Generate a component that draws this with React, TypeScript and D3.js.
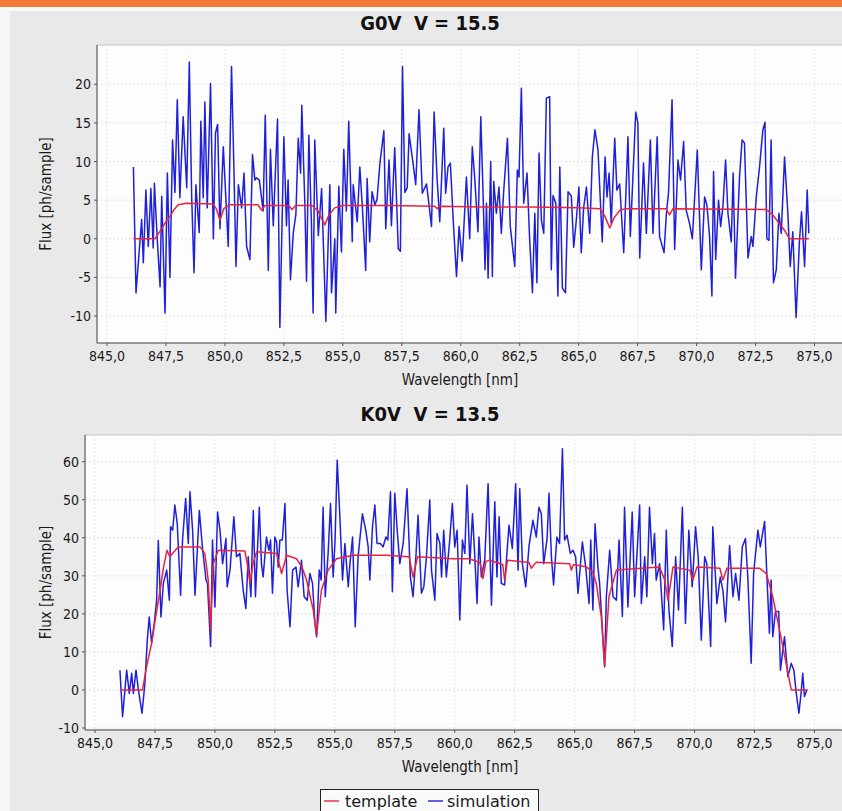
import React from 'react';
import * as d3 from 'd3';

// wavelength [nm], flux [ph/sample]
const sim1: [number, number][] = [
  [846.12, 9.3], [846.23, -7], [846.47, 2.5], [846.54, -3.1], [846.65, 6.3], [846.75, -1], [846.86, 6.5], [846.96, -1.2],
  [847.01, 7.2], [847.13, 0], [847.25, -6.2], [847.32, 5.5], [847.46, -9.6], [847.56, 8.5], [847.67, -5], [847.78, 12.8],
  [847.88, 6], [847.98, 18], [848.09, 5.3], [848.23, 15.8], [848.38, 6.6], [848.49, 22.9], [848.59, 5.5], [848.69, -4.4],
  [848.77, 7], [848.91, 0.8], [848.98, 15.2], [849.08, 5.3], [849.15, 17.7], [849.25, 4.0], [849.39, 20.1], [849.51, 0],
  [849.6, 13.7], [849.69, 14.8], [849.79, 1.3], [849.93, 11.9], [850.04, 5.3], [850.14, -1], [850.28, 22.3], [850.38, 9.3],
  [850.47, -3.6], [850.57, 7], [850.71, 4], [850.81, 8.5], [850.92, -1], [851.06, -2.7], [851.17, 10.9], [851.27, 7.6],
  [851.34, 7.9], [851.46, 7.6], [851.62, 3.6], [851.71, 16], [851.84, -4.1], [851.93, 11.6], [852.05, 1.7], [852.23, 15.5],
  [852.33, -11.5], [852.5, 13.2], [852.61, 1.7], [852.68, 7.6], [852.78, -5.3], [852.9, 0.8], [853.01, 3.2], [853.11, 13],
  [853.21, 8.5], [853.26, 17.3], [853.39, 4.5], [853.46, -5.5], [853.56, 13.4], [853.67, 1.7], [853.74, -9.6], [853.81, 12.8],
  [853.96, 0.4], [854.1, 6.5], [854.28, -10.7], [854.45, 7], [854.52, -7], [854.66, 0], [854.7, -9.6], [854.83, 6.8],
  [854.94, -1.7], [855.04, 11.6], [855.15, 3.6], [855.25, 15.2], [855.4, -0.4], [855.44, 7], [855.61, 2.2], [855.72, 9.3],
  [855.83, 4], [855.97, -4.1], [856.03, 7.8], [856.14, -0.4], [856.24, 6.1], [856.36, 4.4], [856.45, 5.1], [856.57, 9.7],
  [856.74, 14], [856.82, 1.3], [856.96, 10.2], [857.06, 1.7], [857.2, 11.8], [857.35, -1.3], [857.44, -1.6], [857.53, 22.3],
  [857.63, 6], [857.73, 6.6], [857.81, 13.6], [857.98, 9.7], [858.09, 7], [858.23, 16.7],
  [858.37, 5.9], [858.55, 7.1], [858.76, 1.6], [858.87, 16.4], [859.0, 7.6], [859.11, 2.2], [859.28, 14.3], [859.36, 5.9],
  [859.46, 9.3], [859.56, 9.8], [859.68, 2.4], [859.82, -4.9], [859.93, 1.6], [860.06, -2.9], [860.24, 8.0], [860.38, 0],
  [860.49, 11.9], [860.59, 8], [860.73, 0.9], [860.85, 15.8], [860.95, 5.4], [861.03, -4], [861.09, 4.6], [861.16, -5.1],
  [861.27, 10], [861.34, -4.9], [861.4, 7.4], [861.51, 3.3], [861.62, 6.7], [861.72, 0.7], [861.82, 6.1], [861.98, 13],
  [862.1, 1.6], [862.29, -3.6], [862.4, 8.9], [862.47, 8.0], [862.57, 19.5], [862.67, 4.6], [862.81, 8.5], [862.92, 0],
  [863.04, -7], [863.14, 3.3], [863.23, -5.7], [863.32, 11.1], [863.42, 2.4], [863.52, 0.7], [863.63, 18.2], [863.77, 18.4],
  [863.84, -4], [863.91, 5.6], [864.03, 4.6], [864.12, -7.4], [864.2, 9.3], [864.31, -6.4], [864.44, -7], [864.55, 6.1],
  [864.69, 5.5], [864.79, -1.1], [864.9, 2.4], [865.01, 6.7], [865.11, -1.8], [865.21, 4.0], [865.33, 6.7], [865.47, 0.7],
  [865.58, 10.6], [865.69, 14.1], [865.82, 11.5], [866.0, -0.4], [866.12, 10.6], [866.2, 5.4], [866.29, 8.5], [866.38, 2],
  [866.53, 13], [866.62, 6.3], [866.74, 7.1], [866.91, -1.8], [867.09, 13.2], [867.19, 0.3], [867.42, 16.4], [867.51, 15],
  [867.59, -2.5], [867.75, 9.8], [867.87, 0.7], [868.04, 12.8], [868.15, 0.7], [868.33, 13.2], [868.43, 0.3], [868.62, -1.8],
  [868.72, 3.3], [868.81, 5.9], [868.96, 18], [869.07, -1.4], [869.21, 10.2], [869.32, 7.6], [869.45, 12.6], [869.56, 3.7],
  [869.7, 2], [869.82, 0], [870.03, 11.5], [870.2, -4], [870.34, 5.4], [870.44, 4.3], [870.55, 0.3], [870.65, -7.4],
  [870.72, 8.7], [870.81, -2.7], [870.93, 5], [871.02, 1.6], [871.12, 4.3], [871.23, 10.2], [871.33, 3.3], [871.47, -0.4],
  [871.55, 8.5], [871.65, -5.1], [871.82, 8.0], [871.93, 12.8], [872.03, 12.4], [872.18, -2.5], [872.32, 0.3], [872.39, -1],
  [872.53, 5.4], [872.67, 9.3], [872.81, 14.1], [872.9, 15.1], [872.98, 0], [873.07, -0.2], [873.16, 12.8], [873.26, -5.7],
  [873.38, -4], [873.49, 3.3], [873.59, 0.7], [873.73, 10.6], [873.87, 3.3], [873.97, -3.6], [874.08, 0.9], [874.22, -10.2],
  [874.36, -0.4], [874.45, 3.5], [874.58, -3.6], [874.69, 6.3], [874.76, 0.7],
];

const tmpl1: [number, number][] = [
  [846.12, 0], [847.04, 0], [847.25, 1], [847.5, 2.2], [847.67, 2.9], [847.85, 3.8], [848.02, 4.4], [848.38, 4.6],
  [849.5, 4.5], [849.65, 3.8], [849.79, 2.4], [849.95, 3.9], [850.2, 4.4], [851.4, 4.4], [851.55, 3.7], [851.7, 4.3],
  [852.7, 4.3], [852.85, 3.8], [853.0, 4.3], [853.7, 4.3], [853.95, 3.6], [854.1, 2.6], [854.24, 1.8], [854.4, 3.0],
  [854.65, 4.0], [855.0, 4.3], [857.0, 4.3], [858.9, 4.2], [859.0, 3.9], [859.1, 4.2], [861.0, 4.1], [863.0, 4.1],
  [865.0, 4.0], [865.9, 3.9], [866.1, 3.0], [866.32, 1.4], [866.5, 2.7], [866.75, 3.7], [867.0, 3.9], [868.7, 3.9],
  [868.85, 3.1], [869.0, 3.9], [872.95, 3.8], [873.2, 3.2], [873.5, 2.0], [873.75, 1.0], [873.94, 0], [874.76, 0],
];

const sim2: [number, number][] = [
  [846.04, 5.2], [846.15, -7], [846.32, 5.2], [846.43, -0.9], [846.53, 4.4], [846.6, -0.9], [846.71, 5.2], [846.81, 0],
  [846.96, -6.1], [847.08, 1.7], [847.18, 13.1], [847.26, 19.2], [847.36, 12.3], [847.47, 17.5], [847.57, 23.6], [847.64, 39.3],
  [847.75, 19.2], [847.85, 28], [847.99, 31.5], [848.1, 23.6], [848.15, 42.9], [848.24, 42], [848.33, 48.6], [848.43, 43.7],
  [848.57, 24.9], [848.65, 39.4], [848.78, 50.3], [848.89, 38.5], [848.96, 52.1], [849.07, 42], [849.17, 24.9], [849.35, 47.2],
  [849.49, 36.7], [849.63, 28.9], [849.69, 28], [849.82, 11.4], [849.9, 39.4], [850.0, 21.8], [850.11, 46.8], [850.21, 42],
  [850.32, 33.2], [850.46, 39.8], [850.51, 27.1], [850.63, 31.5], [850.79, 45.5], [850.9, 35], [851.04, 35.9], [851.18, 26.2],
  [851.29, 21.4], [851.39, 35], [851.5, 24.5], [851.6, 47.2], [851.69, 24.5], [851.85, 48.0], [851.94, 33.2], [852.01, 29.7],
  [852.15, 40.2], [852.25, 36.7], [852.32, 39.4], [852.4, 25.4], [852.5, 40.2], [852.57, 38.9], [852.64, 32.3], [852.71, 39.4],
  [852.81, 39.4], [852.92, 49], [853.01, 26.2], [853.13, 16.6], [853.24, 31.5], [853.38, 32.3], [853.47, 27.1], [853.61, 34.1],
  [853.72, 24.5], [853.85, 23.6], [853.96, 30.6], [854.07, 28], [854.17, 17.5], [854.24, 14], [854.35, 31.5], [854.43, 28.9],
  [854.51, 48], [854.6, 24.5], [854.72, 35.9], [854.82, 49], [854.93, 29.7], [855.01, 39.4], [855.1, 60.4], [855.21, 45.5],
  [855.32, 28.9], [855.42, 38.5], [855.56, 27.1], [855.63, 33.2], [855.74, 40.2], [855.85, 16.6], [855.97, 35], [856.15, 46.3],
  [856.29, 42], [856.39, 37.6], [856.46, 28.9], [856.57, 42.9], [856.67, 48.6], [856.76, 38.5], [856.9, 38.5], [857.01, 37.6],
  [857.13, 40.2], [857.21, 39.4], [857.32, 52.1], [857.4, 25.8], [857.5, 51.7], [857.6, 42], [857.71, 33.2], [857.85, 38.5],
  [858.01, 52.9], [858.15, 29.7], [858.26, 24.5], [858.38, 35], [858.47, 45.9], [858.61, 25.4], [858.71, 27.1], [858.82, 35],
  [858.96, 49.9], [859.03, 31.5], [859.17, 23.6], [859.26, 41.1], [859.38, 38.5], [859.45, 29.7], [859.54, 42], [859.65, 29.7],
  [859.79, 39.4], [859.9, 49], [860.0, 37.6], [860.1, 42], [860.21, 18.4], [860.32, 39.4], [860.42, 35.9], [860.51, 53.8],
  [860.63, 33.2], [860.74, 46.3], [860.83, 35.9], [860.93, 22.7], [861.01, 40.2],
  [861.11, 29.7], [861.25, 34.1], [861.39, 54.2], [861.53, 22.3], [861.67, 49.5], [861.76, 29.7], [861.85, 45.5], [861.94, 28],
  [862.08, 27.6], [862.26, 43.3], [862.4, 37.2], [862.54, 54.2], [862.64, 31.5], [862.71, 52.9], [862.82, 33.2], [862.96, 27.1],
  [863.1, 38], [863.26, 44.6], [863.4, 40.2], [863.51, 48], [863.61, 46.3], [863.71, 33.2], [863.85, 39.8], [863.93, 51.7],
  [864.03, 35], [864.12, 27.6], [864.26, 40.2], [864.37, 38.5], [864.49, 63.4], [864.58, 39.4], [864.68, 40.7], [864.82, 35.9],
  [864.93, 36.7], [865.04, 35], [865.14, 25.4], [865.32, 38.9], [865.46, 32.3], [865.6, 22.7], [865.67, 39.4], [865.76, 21],
  [865.85, 43.7], [865.97, 32.3], [866.04, 28], [866.25, 6.1], [866.32, 24.5], [866.46, 36.7], [866.6, 24.5], [866.74, 23.6],
  [866.85, 39.4], [866.99, 19.3], [867.08, 48], [867.22, 21.8], [867.4, 46.8], [867.5, 24.5], [867.71, 48.6], [867.78, 22.7],
  [867.92, 35], [868.01, 24.5], [868.12, 48], [868.24, 33.2], [868.33, 41.1], [868.4, 28.9], [868.54, 33.2], [868.71, 15.8],
  [868.82, 42], [868.93, 21], [869.07, 11.4], [869.21, 35], [869.33, 21], [869.49, 48], [869.62, 17.5], [869.76, 42],
  [869.9, 27.1], [870.04, 42.9], [870.15, 35], [870.28, 13.1], [870.42, 35], [870.51, 33.2], [870.67, 11.4], [870.76, 42.9],
  [870.93, 22.7], [871.07, 29.7], [871.18, 26.2], [871.29, 17.9], [871.46, 38], [871.6, 24.5], [871.71, 30.6], [871.85, 23.6],
  [871.99, 37.6], [872.12, 39.8], [872.22, 29.7], [872.36, 7], [872.46, 30.6], [872.64, 42], [872.74, 37.6], [872.92, 44.3],
  [873.01, 30.6], [873.12, 14.9], [873.19, 28.9], [873.26, 14], [873.37, 20.6], [873.51, 20.6], [873.58, 5.2], [873.75, 14],
  [873.89, 3.5], [874.03, 7], [874.14, 5.2], [874.24, -0.9], [874.35, -6.1], [874.44, -0.9], [874.51, 4.4], [874.58, -1.7],
  [874.68, 0],
];

const tmpl2: [number, number][] = [
  [846.04, 0], [846.98, 0], [847.15, 6], [847.36, 12.3], [847.55, 20], [847.71, 26], [847.85, 32], [848.0, 36.7],
  [848.12, 35], [848.25, 36], [848.47, 37.6], [849.38, 37.6], [849.58, 35.9], [849.72, 28.9], [849.82, 15.8], [849.93, 33.2],
  [850.14, 36.7], [851.25, 36.5], [851.38, 32], [851.46, 28], [851.6, 33.5], [851.74, 36.3], [852.57, 35.9], [852.78, 30.6],
  [852.99, 35.4], [853.4, 34.5], [853.65, 32], [853.82, 28.9], [854.1, 21], [854.24, 14.4], [854.44, 26.2], [854.72, 31.5],
  [855.07, 34.5], [855.76, 35.4], [857.15, 35.4], [858.1, 35], [858.26, 29.7], [858.45, 35], [859.93, 34.5], [860.6, 34.5],
  [861.05, 33.5], [861.18, 29.3], [861.3, 33.8], [861.45, 34.1], [862.0, 33], [862.08, 28.9], [862.2, 34.1], [863.1, 33.5],
  [863.19, 32], [863.4, 33.6], [864.79, 33.2], [864.86, 31.5], [864.95, 33], [865.5, 32.3], [865.75, 31], [865.9, 28],
  [866.11, 19.3], [866.25, 6.5], [866.43, 24.5], [866.74, 31.5], [868.54, 32.3], [868.75, 29], [868.89, 23.6], [869.1, 32.3],
  [869.8, 31.5], [869.93, 28.9], [870.1, 32.3], [871.05, 32], [871.18, 28.9], [871.35, 32], [872.71, 32], [872.99, 30.6],
  [873.26, 24.5], [873.68, 11.4], [874.03, 0], [874.72, 0],
];

const xTicks = [845, 847.5, 850, 852.5, 855, 857.5, 860, 862.5, 865, 867.5, 870, 872.5, 875];
const yTicks1 = [-10, -5, 0, 5, 10, 15, 20];
const yTicks2 = [-10, 0, 10, 20, 30, 40, 50, 60];

const FONT = '"DejaVu Sans Condensed", "DejaVu Sans", sans-serif';
const LEGEND_FONT = '"DejaVu Sans", sans-serif';
const BLUE = '#2020d8';
const RED = '#e8243c';
const fmtX = (v: number) => d3.format('.1f')(v).replace('.', ',');

type PanelProps = {
  id: string;
  title: string;
  titleY: number;
  left: number;
  top: number;
  bottom: number;
  x845: number;
  yTicks: number[];
  yLo: [number, number];
  yHi: [number, number];
  sim: [number, number][];
  tmpl: [number, number][];
};

function Panel(p: PanelProps) {
  const right = 850;
  const x = d3.scaleLinear().domain([845, 875]).range([p.x845, 814.5]);
  const y = d3.scaleLinear().domain([p.yLo[0], p.yHi[0]]).range([p.yLo[1], p.yHi[1]]);
  const line = d3.line<[number, number]>().x(d => x(d[0])).y(d => y(d[1]));
  const midY = (p.top + p.bottom) / 2;
  return (
    <g>
      <defs>
        <clipPath id={p.id}>
          <rect x={p.left} y={p.top} width={right - p.left} height={p.bottom - p.top} />
        </clipPath>
      </defs>
      <text x={430} y={p.titleY} textAnchor="middle" fontFamily={FONT} fontWeight="bold" fontSize={20}
        fill="#111" style={{ whiteSpace: 'pre' }}>{p.title}</text>
      <rect x={p.left} y={p.top} width={right - p.left} height={p.bottom - p.top} fill="#fdfdfd" stroke="#c4c4c4" />
      <g clipPath={`url(#${p.id})`}>
        {p.yTicks.map(t => (
          <line key={'gy' + t} x1={p.left} x2={right} y1={y(t)} y2={y(t)} stroke="#e3e3e3" strokeDasharray="2,2" />
        ))}
        {xTicks.map(t => (
          <line key={'gx' + t} x1={x(t)} x2={x(t)} y1={p.top} y2={p.bottom} stroke="#e8e8e8" strokeDasharray="2,2" />
        ))}
        <path d={line(p.sim) ?? ''} fill="none" stroke={BLUE} strokeWidth={1.5} strokeLinejoin="round" />
        <path d={line(p.tmpl) ?? ''} fill="none" stroke={RED} strokeWidth={1.5} strokeLinejoin="round" />
      </g>
      <line x1={p.left} x2={p.left} y1={p.top} y2={p.bottom} stroke="#555" />
      <line x1={p.left} x2={right} y1={p.bottom} y2={p.bottom} stroke="#555" />
      {p.yTicks.map(t => (
        <g key={'ty' + t}>
          <line x1={p.left - 3} x2={p.left} y1={y(t)} y2={y(t)} stroke="#555" />
          <text x={p.left - 6} y={y(t) + 5} textAnchor="end" fontFamily={FONT} fontSize={14} fill="#1a1a1a">{t}</text>
        </g>
      ))}
      {xTicks.map(t => (
        <g key={'tx' + t}>
          <line x1={x(t)} x2={x(t)} y1={p.bottom} y2={p.bottom + 3} stroke="#555" />
          <text x={x(t)} y={p.bottom + 18} textAnchor="middle" fontFamily={FONT} fontSize={14} fill="#1a1a1a">{fmtX(t)}</text>
        </g>
      ))}
      <text x={460} y={p.bottom + 42} textAnchor="middle" fontFamily={FONT} fontSize={15} fill="#1a1a1a">Wavelength [nm]</text>
      <text transform={`translate(51,${midY}) rotate(-90)`} textAnchor="middle" fontFamily={FONT} fontSize={15} fill="#1a1a1a">
        Flux [ph/sample]
      </text>
    </g>
  );
}

export default function App() {
  return (
    <div style={{ position: 'absolute', left: 0, top: 0 }}>
      <svg width={842} height={811} style={{ display: 'block' }}>
        <rect x={0} y={0} width={842} height={811} fill="#e9e9e9" />
        <rect x={0} y={0} width={10} height={811} fill="#f6f6f6" />
        <rect x={0} y={7} width={842} height={4} fill="#f8f8f8" />
        <rect x={0} y={0} width={842} height={7} fill="#f47a3a" />
        <Panel id="c1" title="G0V  V = 15.5" titleY={30} left={97} top={45} bottom={343} x845={107}
          yTicks={yTicks1} yLo={[-10, 316]} yHi={[20, 84.3]} sim={sim1} tmpl={tmpl1} />
        <Panel id="c2" title="K0V  V = 13.5" titleY={421} left={85} top={435} bottom={730} x845={95}
          yTicks={yTicks2} yLo={[-10, 728]} yHi={[60, 461.7]} sim={sim2} tmpl={tmpl2} />
        <g>
          <rect x={320.5} y={789.5} width={218} height={30} fill="#fafafa" stroke="#222" />
          <line x1={324} x2={339} y1={801} y2={801} stroke={RED} strokeWidth={1.4} />
          <text x={345} y={807} fontFamily={LEGEND_FONT} fontSize={16} fill="#1a1a1a">template</text>
          <line x1={428} x2={443} y1={801} y2={801} stroke={BLUE} strokeWidth={1.4} />
          <text x={447} y={807} fontFamily={LEGEND_FONT} fontSize={16} fill="#1a1a1a">simulation</text>
        </g>
      </svg>
    </div>
  );
}
